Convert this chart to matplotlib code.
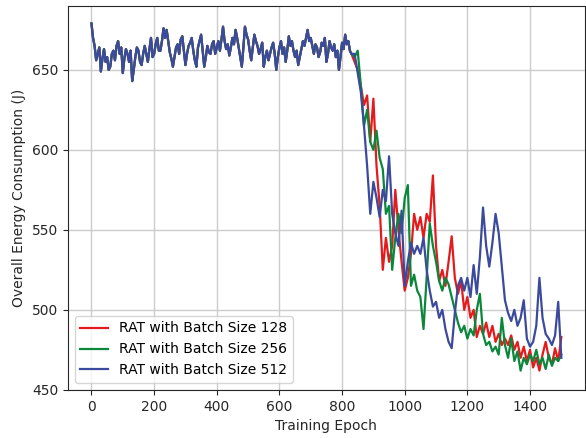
import numpy as np
import matplotlib
matplotlib.use("Agg")
import matplotlib.pyplot as plt

# epochs 0..830 (step 5): the three runs overlap here
warmup = [679, 670, 665, 656, 660, 664, 649, 657, 663, 655,
          658, 650, 652, 660, 662, 656, 665, 668, 660, 664,
          648, 657, 663, 660, 655, 662, 643, 650, 658, 664,
          662, 655, 653, 660, 665, 660, 655, 663, 670, 658,
          660, 666, 670, 662, 662, 668, 676, 670, 675, 668,
          661, 657, 652, 658, 664, 666, 660, 669, 671, 662,
          653, 660, 665, 667, 670, 662, 656, 652, 664, 668,
          672, 662, 652, 658, 665, 661, 660, 666, 668, 660,
          664, 668, 662, 669, 677, 668, 663, 666, 659, 664,
          670, 666, 675, 670, 664, 658, 652, 664, 677, 672,
          669, 662, 656, 664, 672, 668, 665, 660, 663, 667,
          652, 658, 662, 656, 660, 664, 667, 660, 650, 658,
          664, 668, 660, 664, 655, 662, 671, 665, 668, 662,
          658, 662, 653, 658, 663, 668, 665, 670, 675, 668,
          670, 665, 660, 666, 664, 658, 661, 667, 665, 670,
          655, 660, 668, 664, 662, 666, 658, 662, 650, 658,
          667, 663, 672, 666, 668, 662, 660]

# epochs 840..1500 (step 10)
tail_128 = [655, 650, 640, 628, 634, 605, 632, 590, 565, 525,
            545, 530, 540, 575, 550, 530, 512, 520, 535, 560,
            550, 558, 545, 560, 555, 584, 540, 518, 525, 515,
            530, 546, 520, 510, 518, 500, 508, 495, 500, 483,
            490, 485, 492, 483, 490, 480, 485, 478, 482, 478,
            484, 475, 480, 470, 477, 468, 475, 464, 470, 462,
            472, 480, 470, 466, 476, 468, 483]

tail_256 = [658, 662, 640, 615, 625, 605, 600, 612, 595, 588,
            560, 565, 525, 545, 560, 548, 570, 578, 515, 522,
            512, 508, 488, 520, 554, 540, 530, 518, 512, 520,
            516, 508, 500, 492, 486, 490, 482, 488, 484, 500,
            510, 485, 478, 480, 474, 477, 472, 495, 478, 470,
            482, 468, 474, 462, 470, 466, 472, 468, 475, 466,
            470, 463, 472, 465, 470, 468, 472]

tail_512 = [660, 648, 636, 615, 590, 560, 580, 570, 558, 575,
            568, 596, 560, 548, 540, 562, 515, 530, 542, 535,
            540, 535, 545, 525, 512, 502, 505, 495, 500, 488,
            480, 476, 498, 515, 520, 512, 520, 508, 528, 510,
            533, 564, 540, 527, 542, 560, 548, 527, 506, 498,
            493, 500, 490, 495, 506, 482, 477, 480, 490, 520,
            495, 485, 482, 478, 484, 505, 470]

labels = ["RAT with Batch Size 128", "RAT with Batch Size 256", "RAT with Batch Size 512"]
colors = ['#e41a1c', '#0b873c', '#3b4a9c']

epochs = np.concatenate([np.arange(0, 831, 5), np.arange(840, 1501, 10)])
series = [warmup + tail_128, warmup + tail_256, warmup + tail_512]

fig, ax = plt.subplots(figsize=(5.86, 4.38), dpi=100)
fig.subplots_adjust(left=0.116, right=0.998, top=0.986, bottom=0.110)

for vals, lab, c in zip(series, labels, colors):
    ax.plot(epochs, vals, color=c, linewidth=1.6, label=lab)

ax.grid(True, color='#cccccc', linewidth=1)
ax.set_axisbelow(True)
ax.set_xticks(range(0, 1401, 200))
ax.set_yticks(range(450, 651, 50))
ax.tick_params(colors='#262626', labelsize=10)
for s in ax.spines.values():
    s.set_color('#262626')
ax.set_xlabel("Training Epoch", color='#262626')
ax.set_ylabel("Overall Energy Consumption (J)", color='#262626')
ax.legend(loc='lower left', fontsize=10)

fig.savefig("out.png", dpi=100)
